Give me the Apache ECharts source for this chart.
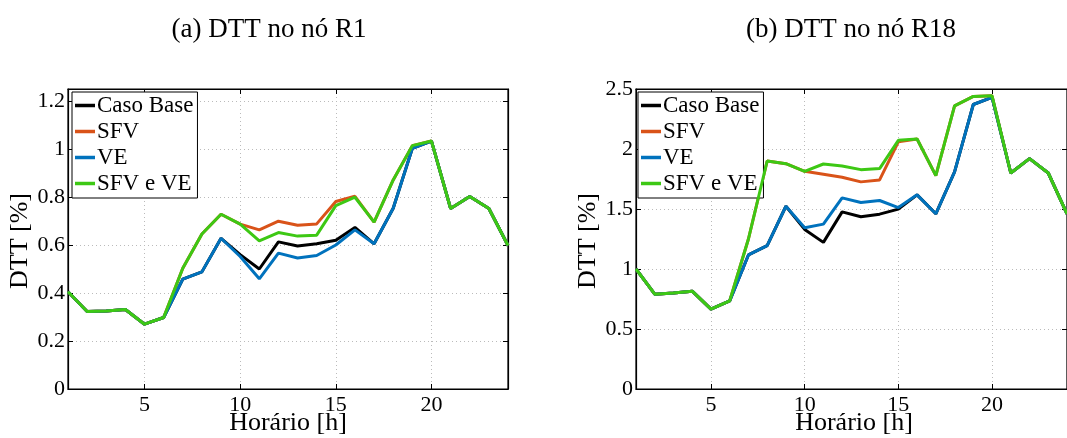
<!DOCTYPE html>
<html>
<head>
<meta charset="utf-8">
<script src="https://cdn.jsdelivr.net/npm/echarts@6/dist/echarts.min.js"></script>
<style>
  html, body { margin: 0; padding: 0; background: #fff; }
  #chart { width: 1067px; height: 438px; }
</style>
</head>
<body>
<div id="chart"></div>
<script>
// horas do dia
const hours = ['1', '2', '3', '4', '5', '6', '7', '8', '9', '10', '11', '12',
  '13', '14', '15', '16', '17', '18', '19', '20', '21', '22', '23', '24']

// (a) nó R1
const r1Base = [0.405, 0.323, 0.325, 0.331, 0.270, 0.298, 0.458, 0.488, 0.628, 0.560, 0.500, 0.613,
  0.596, 0.605, 0.620, 0.673, 0.605, 0.753, 1.003, 1.033, 0.752, 0.802, 0.752, 0.598]
const r1Sfv = [0.405, 0.323, 0.325, 0.331, 0.270, 0.298, 0.503, 0.646, 0.728, 0.687, 0.663, 0.699,
  0.682, 0.688, 0.781, 0.803, 0.695, 0.871, 1.014, 1.033, 0.752, 0.802, 0.752, 0.598]
const r1Ve = [0.405, 0.323, 0.325, 0.331, 0.270, 0.298, 0.458, 0.488, 0.628, 0.552, 0.459, 0.566,
  0.546, 0.556, 0.600, 0.663, 0.605, 0.753, 1.003, 1.033, 0.752, 0.802, 0.752, 0.598]
const r1SfvVe = [0.405, 0.323, 0.325, 0.331, 0.270, 0.298, 0.503, 0.646, 0.728, 0.687, 0.617, 0.652,
  0.637, 0.641, 0.764, 0.799, 0.695, 0.871, 1.014, 1.033, 0.752, 0.802, 0.752, 0.598]

// (b) nó R18
const r18Base = [1.00, 0.79, 0.80, 0.815, 0.665, 0.734, 1.117, 1.194, 1.523, 1.330, 1.222, 1.476,
  1.435, 1.457, 1.499, 1.618, 1.460, 1.809, 2.371, 2.430, 1.800, 1.920, 1.800, 1.460]
const r18Sfv = [1.00, 0.79, 0.80, 0.815, 0.665, 0.734, 1.250, 1.900, 1.878, 1.814, 1.790, 1.765,
  1.726, 1.742, 2.060, 2.083, 1.778, 2.360, 2.438, 2.443, 1.800, 1.920, 1.800, 1.460]
const r18Ve = [1.00, 0.79, 0.80, 0.815, 0.665, 0.734, 1.117, 1.194, 1.523, 1.343, 1.374, 1.593,
  1.554, 1.571, 1.512, 1.618, 1.460, 1.809, 2.371, 2.430, 1.800, 1.920, 1.800, 1.460]
const r18SfvVe = [1.00, 0.79, 0.80, 0.815, 0.665, 0.734, 1.250, 1.900, 1.878, 1.814, 1.875, 1.859,
  1.828, 1.837, 2.072, 2.083, 1.778, 2.360, 2.438, 2.443, 1.800, 1.920, 1.800, 1.460]

const names = ['Caso Base', 'SFV', 'VE', 'SFV e VE']
const colors = ['#000000', '#D95319', '#0072BD', '#3DC814']
const serif = '"Liberation Serif", "DejaVu Serif", serif'

const myChart = echarts.init(document.getElementById('chart'))

const isMajor = (idx, val) => Number(val) % 5 === 0
const dotted = { color: '#bbb', type: [1, 3], width: 1 }

const xAxisOf = (gridIndex, position) => ({
  type: 'category',
  gridIndex,
  position,
  data: hours,
  boundaryGap: false,
  axisLine: { onZero: false, lineStyle: { color: '#000', width: 1.2 } },
  axisTick: { inside: true, length: 5, interval: isMajor, lineStyle: { color: '#000' } },
  axisLabel: { show: position === 'bottom', interval: isMajor, color: '#000', fontFamily: serif, fontSize: 22, margin: 5 },
  splitLine: { show: position === 'bottom', interval: isMajor, lineStyle: dotted }
})

const yAxisOf = (gridIndex, max, interval, position) => ({
  type: 'value',
  gridIndex,
  position,
  min: 0,
  max,
  interval,
  axisLine: { show: true, onZero: false, lineStyle: { color: '#000', width: 1.2 } },
  axisTick: { show: true, inside: true, length: 5, lineStyle: { color: '#000' } },
  axisLabel: {
    show: position === 'left',
    color: '#000', fontFamily: serif, fontSize: 22, margin: 3, showMaxLabel: max === 2.5,
    formatter: v => String(Math.round(v * 100) / 100)
  },
  splitLine: { show: position === 'left', showMaxLine: false, lineStyle: dotted }
})

const seriesOf = (idx, arrays) => arrays.map((d, i) => ({
  name: names[i],
  type: 'line',
  xAxisIndex: idx,
  yAxisIndex: idx,
  data: d,
  symbol: 'none',
  lineStyle: { color: colors[i], width: 3 },
  itemStyle: { color: colors[i] },
  z: 2 + i
}))

const legendOf = (left) => ({
  left,
  top: 92,
  orient: 'vertical',
  data: names,
  icon: 'rect',
  itemWidth: 20,
  itemHeight: 3.5,
  itemGap: 3,
  padding: [2, 4, 3, 3],
  backgroundColor: '#fff',
  borderColor: '#000',
  borderWidth: 1,
  textStyle: { fontFamily: serif, fontSize: 23, color: '#000', padding: [0, 0, 0, -3] },
  selectedMode: false
})

const label = (text, x, y, rotation) => ({
  type: 'text', x, y, rotation: rotation || 0,
  style: { text, font: '26px ' + serif, fill: '#000', textAlign: 'center', textVerticalAlign: 'middle' }
})

const option = {
  animation: false,
  title: [
    { text: '(a) DTT no nó R1', left: 264, top: 11, textAlign: 'center',
      textStyle: { fontFamily: serif, fontSize: 27, fontWeight: 'normal', color: '#000' } },
    { text: '(b) DTT no nó R18', left: 846, top: 11, textAlign: 'center',
      textStyle: { fontFamily: serif, fontSize: 27, fontWeight: 'normal', color: '#000' } }
  ],
  grid: [
    { left: 68, top: 89, width: 440, height: 300, show: true, borderColor: '#000', borderWidth: 1.2 },
    { left: 636, top: 89, width: 438, height: 300, show: true, borderColor: '#000', borderWidth: 1.2 }
  ],
  legend: [legendOf(72), legendOf(638)],
  xAxis: [xAxisOf(0, 'bottom'), xAxisOf(1, 'bottom'), xAxisOf(0, 'top'), xAxisOf(1, 'top')],
  yAxis: [yAxisOf(0, 1.25, 0.2, 'left'), yAxisOf(1, 2.5, 0.5, 'left'),
    yAxisOf(0, 1.25, 0.2, 'right'), yAxisOf(1, 2.5, 0.5, 'right')],
  series: [
    ...seriesOf(0, [r1Base, r1Sfv, r1Ve, r1SfvVe]),
    ...seriesOf(1, [r18Base, r18Sfv, r18Ve, r18SfvVe])
  ],
  graphic: [
    label('Horário [h]', 288, 423),
    label('Horário [h]', 854, 423),
    label('DTT [%]', 20, 241, Math.PI / 2),
    label('DTT [%]', 588, 241, Math.PI / 2)
  ]
}

myChart.setOption(option)
window.addEventListener('resize', () => {
  myChart.resize()
})
</script>
</body>
</html>
